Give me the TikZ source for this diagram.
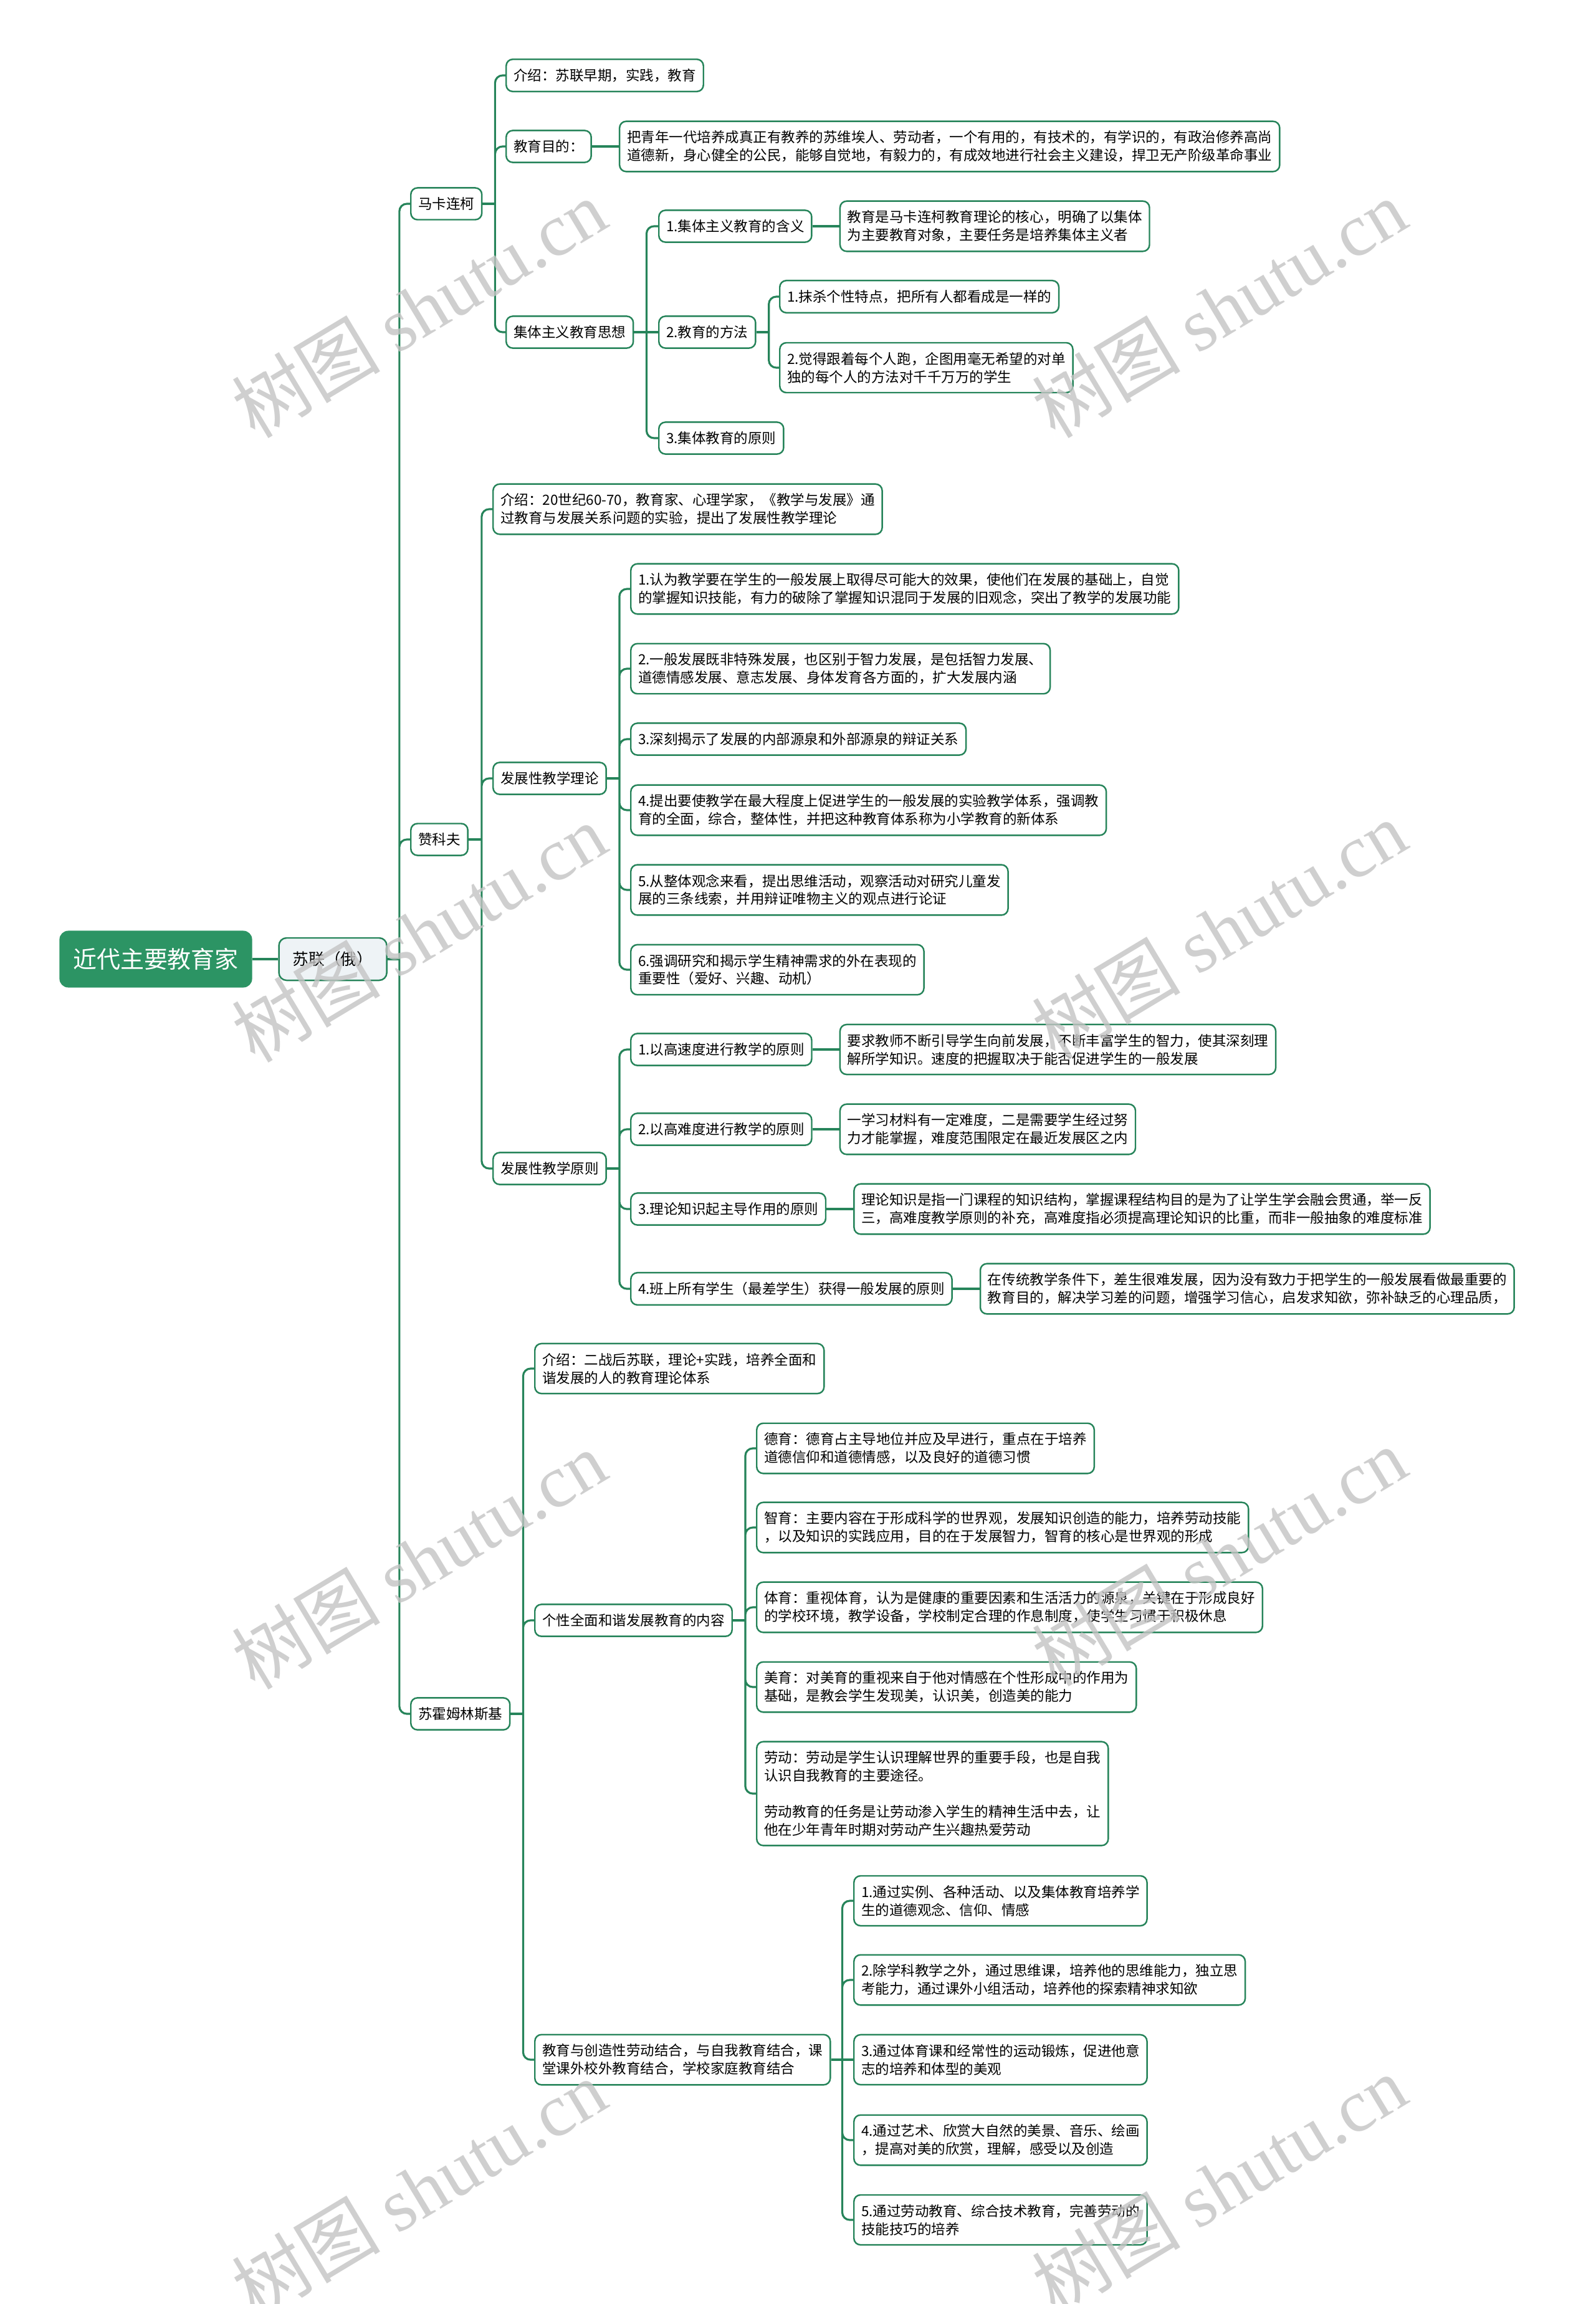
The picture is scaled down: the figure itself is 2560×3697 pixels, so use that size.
\documentclass[tikz,border=0pt]{standalone}
\usepackage{fontspec}
\setmainfont{Noto Sans CJK SC}
\newfontfamily\wmfont{Liberation Serif}
\usepackage{tikz}
\usetikzlibrary{positioning}
\definecolor{mapgreen}{RGB}{38,132,90}
\definecolor{rootgreen}{RGB}{44,148,100}
\definecolor{subfill}{RGB}{238,243,246}
\definecolor{wmgray}{RGB}{196,196,196}

\begin{document}
\begin{tikzpicture}[
  x=0.01cm, y=-0.01cm,
  font=\fontsize{6.4}{8.2}\selectfont,
  node distance=4.3mm,
  root/.style={fill=rootgreen,rounded corners=4pt,text=white,
               font=\fontsize{10.8}{13}\selectfont,minimum width=3.09cm,minimum height=0.91cm},
  country/.style={draw=mapgreen,line width=0.7pt,fill=subfill,rounded corners=3.5pt,
                  font=\fontsize{7.3}{9}\selectfont,minimum width=1.73cm,minimum height=0.68cm},
  leaf/.style={draw=mapgreen,line width=0.7pt,fill=white,rounded corners=3pt,align=left,
               inner xsep=3.4pt,inner ysep=4.3pt,minimum height=0.51cm,anchor=west},
  link/.style={draw=mapgreen,line width=0.9pt,rounded corners=3.4pt},
  wmark/.style={text=wmgray,text opacity=0.8,rotate=31,font=\fontsize{34}{40}\selectfont},
]
\path[use as bounding box,fill=white] (0,0) rectangle (2560,3697);
% Root
\node[root] (root) at (250,1539) {近代主要教育家};
\node[country,right=4.1mm of root] (sulian) {苏联（俄）};
\draw[link] (root) -- (sulian);
\draw[link] (sulian.east) -- ++(19,0) coordinate (trunk);
% Educators
\node[leaf] (mkl) at (658,327) {马卡连柯};
\node[leaf] (zkf) at (658,1347) {赞科夫};
\node[leaf] (shm) at (658,2750) {苏霍姆林斯基};
\draw[link] (trunk) |- (mkl.west) (trunk) |- (zkf.west) (trunk) |- (shm.west);

% Makarenko
\node[leaf] (mkintro) at (811,121) {介绍：苏联早期，实践，教育};
\node[leaf] (mkaim) at (811,235) {教育目的：};
\node[leaf,right=of mkaim] (mkaimtxt) {把青年一代培养成真正有教养的苏维埃人、劳动者，一个有用的，有技术的，有学识的，有政治修养高尚\\道德新，身心健全的公民，能够自觉地，有毅力的，有成效地进行社会主义建设，捍卫无产阶级革命事业};
\node[leaf] (mkcol) at (811,533) {集体主义教育思想};
\node[leaf] (mkc1) at (1056,363) {1.集体主义教育的含义};
\node[leaf,right=of mkc1] (mkc1t) {教育是马卡连柯教育理论的核心，明确了以集体\\为主要教育对象，主要任务是培养集体主义者};
\node[leaf] (mkc2) at (1056,533) {2.教育的方法};
\node[leaf] (mkc2a) at (1250,476) {1.抹杀个性特点，把所有人都看成是一样的};
\node[leaf] (mkc2b) at (1250,590) {2.觉得跟着每个人跑，企图用毫无希望的对单\\独的每个人的方法对千千万万的学生};
\node[leaf] (mkc3) at (1056,703) {3.集体教育的原则};
\draw[link] (mkl.east) -- ++(20,0) coordinate (mkbus);
\draw[link] (mkbus) |- (mkintro.west) (mkbus) |- (mkaim.west) (mkbus) |- (mkcol.west);
\draw[link] (mkaim) -- (mkaimtxt);
\draw[link] (mkcol.east) -- ++(20,0) coordinate (colbus);
\draw[link] (colbus) |- (mkc1.west) (colbus) |- (mkc3.west);
\draw[link] (colbus) -- (mkc2.west);
\draw[link] (mkc1) -- (mkc1t);
\draw[link] (mkc2.east) -- ++(20,0) coordinate (mthbus);
\draw[link] (mthbus) |- (mkc2a.west) (mthbus) |- (mkc2b.west);

% Zankov
\node[leaf] (zkintro) at (790,817) {介绍：20世纪60-70，教育家、心理学家，《教学与发展》通\\过教育与发展关系问题的实验，提出了发展性教学理论};
\node[leaf] (zkth) at (790,1249) {发展性教学理论};
\node[leaf] (zk1) at (1011,945) {1.认为教学要在学生的一般发展上取得尽可能大的效果，使他们在发展的基础上，自觉\\的掌握知识技能，有力的破除了掌握知识混同于发展的旧观念，突出了教学的发展功能};
\node[leaf] (zk2) at (1011,1073) {2.一般发展既非特殊发展，也区别于智力发展，是包括智力发展、\\道德情感发展、意志发展、身体发育各方面的，扩大发展内涵};
\node[leaf] (zk3) at (1011,1186) {3.深刻揭示了发展的内部源泉和外部源泉的辩证关系};
\node[leaf] (zk4) at (1011,1300) {4.提出要使教学在最大程度上促进学生的一般发展的实验教学体系，强调教\\育的全面，综合，整体性，并把这种教育体系称为小学教育的新体系};
\node[leaf] (zk5) at (1011,1428) {5.从整体观念来看，提出思维活动，观察活动对研究儿童发\\展的三条线索，并用辩证唯物主义的观点进行论证};
\node[leaf] (zk6) at (1011,1556) {6.强调研究和揭示学生精神需求的外在表现的\\重要性（爱好、兴趣、动机）};
\node[leaf] (zkpr) at (790,1875) {发展性教学原则};
\node[leaf] (zkp1) at (1011,1684) {1.以高速度进行教学的原则};
\node[leaf,right=of zkp1] (zkp1t) {要求教师不断引导学生向前发展，不断丰富学生的智力，使其深刻理\\解所学知识。速度的把握取决于能否促进学生的一般发展};
\node[leaf] (zkp2) at (1011,1812) {2.以高难度进行教学的原则};
\node[leaf,right=of zkp2] (zkp2t) {一学习材料有一定难度，二是需要学生经过努\\力才能掌握，难度范围限定在最近发展区之内};
\node[leaf] (zkp3) at (1011,1940) {3.理论知识起主导作用的原则};
\node[leaf,right=of zkp3] (zkp3t) {理论知识是指一门课程的知识结构，掌握课程结构目的是为了让学生学会融会贯通，举一反\\三，高难度教学原则的补充，高难度指必须提高理论知识的比重，而非一般抽象的难度标准};
\node[leaf] (zkp4) at (1011,2068) {4.班上所有学生（最差学生）获得一般发展的原则};
\node[leaf,right=of zkp4] (zkp4t) {在传统教学条件下，差生很难发展，因为没有致力于把学生的一般发展看做最重要的\\教育目的，解决学习差的问题，增强学习信心，启发求知欲，弥补缺乏的心理品质，};
\draw[link] (zkf.east) -- ++(21,0) coordinate (zkbus);
\draw[link] (zkbus) |- (zkintro.west) (zkbus) |- (zkth.west) (zkbus) |- (zkpr.west);
\draw[link] (zkth.east) -- ++(20,0) coordinate (thbus);
\draw[link] (thbus) |- (zk1.west) (thbus) |- (zk2.west) (thbus) |- (zk3.west)
                    (thbus) |- (zk4.west) (thbus) |- (zk5.west) (thbus) |- (zk6.west);
\draw[link] (zkpr.east) -- ++(20,0) coordinate (prbus);
\draw[link] (prbus) |- (zkp1.west) (prbus) |- (zkp2.west) (prbus) |- (zkp3.west) (prbus) |- (zkp4.west);
\draw[link] (zkp1) -- (zkp1t);
\draw[link] (zkp2) -- (zkp2t);
\draw[link] (zkp3) -- (zkp3t);
\draw[link] (zkp4) -- (zkp4t);

% Sukhomlinsky
\node[leaf] (shintro) at (857,2196) {介绍：二战后苏联，理论+实践，培养全面和\\谐发展的人的教育理论体系};
\node[leaf] (shcont) at (857,2600) {个性全面和谐发展教育的内容};
\node[leaf] (sh1) at (1213,2324) {德育：德育占主导地位并应及早进行，重点在于培养\\道德信仰和道德情感，以及良好的道德习惯};
\node[leaf] (sh2) at (1213,2451) {智育：主要内容在于形成科学的世界观，发展知识创造的能力，培养劳动技能\\，以及知识的实践应用，目的在于发展智力，智育的核心是世界观的形成};
\node[leaf] (sh3) at (1213,2579) {体育：重视体育，认为是健康的重要因素和生活活力的源泉，关键在于形成良好\\的学校环境，教学设备，学校制定合理的作息制度，使学生习惯于积极休息};
\node[leaf] (sh4) at (1213,2707) {美育：对美育的重视来自于他对情感在个性形成中的作用为\\基础，是教会学生发现美，认识美，创造美的能力};
\node[leaf] (sh5) at (1213,2878) {劳动：劳动是学生认识理解世界的重要手段，也是自我\\认识自我教育的主要途径。\\[8.2pt]劳动教育的任务是让劳动渗入学生的精神生活中去，让\\他在少年青年时期对劳动产生兴趣热爱劳动};
\node[leaf] (shcomb) at (857,3305) {教育与创造性劳动结合，与自我教育结合，课\\堂课外校外教育结合，学校家庭教育结合};
\node[leaf] (shc1) at (1369,3050) {1.通过实例、各种活动、以及集体教育培养学\\生的道德观念、信仰、情感};
\node[leaf] (shc2) at (1369,3177) {2.除学科教学之外，通过思维课，培养他的思维能力，独立思\\考能力，通过课外小组活动，培养他的探索精神求知欲};
\node[leaf] (shc3) at (1369,3305) {3.通过体育课和经常性的运动锻炼，促进他意\\志的培养和体型的美观};
\node[leaf] (shc4) at (1369,3434) {4.通过艺术、欣赏大自然的美景、音乐、绘画\\，提高对美的欣赏，理解，感受以及创造};
\node[leaf] (shc5) at (1369,3562) {5.通过劳动教育、综合技术教育，完善劳动的\\技能技巧的培养};
\draw[link] (shm.east) -- ++(20,0) coordinate (shbus);
\draw[link] (shbus) |- (shintro.west) (shbus) |- (shcont.west) (shbus) |- (shcomb.west);
\draw[link] (shcont.east) -- ++(20,0) coordinate (ctbus);
\draw[link] (ctbus) |- (sh1.west) (ctbus) |- (sh2.west) (ctbus) |- (sh3.west)
                    (ctbus) |- (sh4.west) (ctbus) |- (sh5.west);
\draw[link] (shcomb.east) -- ++(18,0) coordinate (cbbus);
\draw[link] (cbbus) |- (shc1.west) (cbbus) |- (shc2.west) (cbbus) |- (shc4.west) (cbbus) |- (shc5.west);
\draw[link] (cbbus) -- (shc3.west);

% watermarks
\node[wmark] (wm1) at (672,495) {树图 {\wmfont shutu.cn}};
\node[wmark] (wm2) at (1956,495) {树图 {\wmfont shutu.cn}};
\node[wmark] (wm3) at (672,1497) {树图 {\wmfont shutu.cn}};
\node[wmark] (wm4) at (1956,1492) {树图 {\wmfont shutu.cn}};
\node[wmark] (wm5) at (672,2503) {树图 {\wmfont shutu.cn}};
\node[wmark] (wm6) at (1956,2498) {树图 {\wmfont shutu.cn}};
\node[wmark] (wm7) at (672,3512) {树图 {\wmfont shutu.cn}};
\node[wmark] (wm8) at (1956,3505) {树图 {\wmfont shutu.cn}};
\end{tikzpicture}
\end{document}
